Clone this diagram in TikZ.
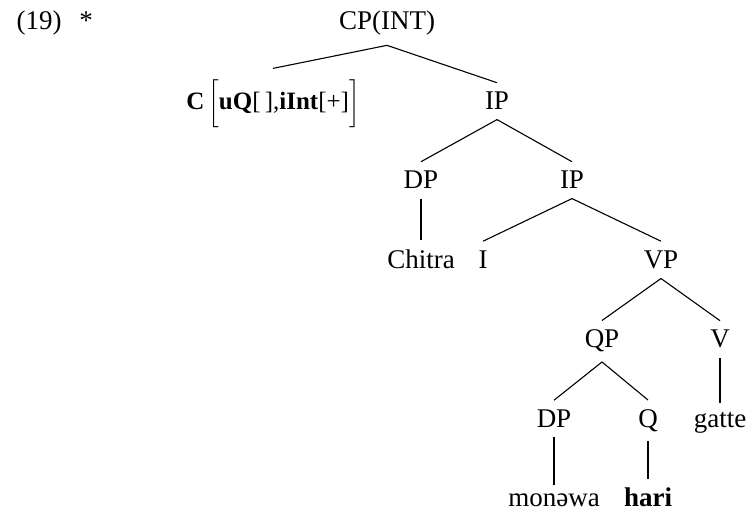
\documentclass[tikz,border=0pt]{standalone}
\usepackage{fontspec}
\setmainfont{Liberation Serif}
\begin{document}
\begin{tikzpicture}[x=0.5pt,y=-0.5pt,
  lbl/.style={font=\fontsize{13.5}{16}\selectfont, inner xsep=0pt, inner ysep=4.6pt, anchor=base},
  edge/.style={draw=black, line width=0.55pt}]
\useasboundingbox (0,0) rectangle (749,512);
\node[lbl] (ex) at (39,30) {(19)};
\node[lbl] (star) at (86,30) {*};
\node[lbl] (cp) at (387,30) {CP(INT)};
\node[lbl, font=\fontsize{12.5}{15}\selectfont] (c) at (273,110) {\textbf{C}\kern2pt$\left[\vrule height 16pt depth 8.5pt width 0pt\mbox{\textbf{uQ}[\,],\textbf{iInt}[+]}\right]$};
\node[lbl] (ipa) at (497,110) {IP};
\node[lbl] (dpa) at (421,189) {DP};
\node[lbl] (ipb) at (572,189) {IP};
\node[lbl] (chitra) at (421,268.5) {Chitra};
\node[lbl] (i) at (483,268.5) {I};
\node[lbl] (vp) at (661,268.5) {VP};
\node[lbl] (qp) at (602,348) {QP};
\node[lbl] (v) at (720,348) {V};
\node[lbl] (dpb) at (554,427.5) {DP};
\node[lbl] (q) at (648,427.5) {Q};
\node[lbl] (gatte) at (720,427.5) {gatte};
\node[lbl] (monewa) at (554,507) {monəwa};
\node[lbl] (hari) at (648,507) {\textbf{hari}};
\foreach \p/\ch in {cp/c, cp/ipa, ipa/dpa, ipa/ipb, dpa/chitra, ipb/i, ipb/vp, vp/qp, vp/v, qp/dpb, qp/q, v/gatte, dpb/monewa, q/hari}
  \draw[edge] (\p.south) -- (\ch.north);
\end{tikzpicture}
\end{document}
